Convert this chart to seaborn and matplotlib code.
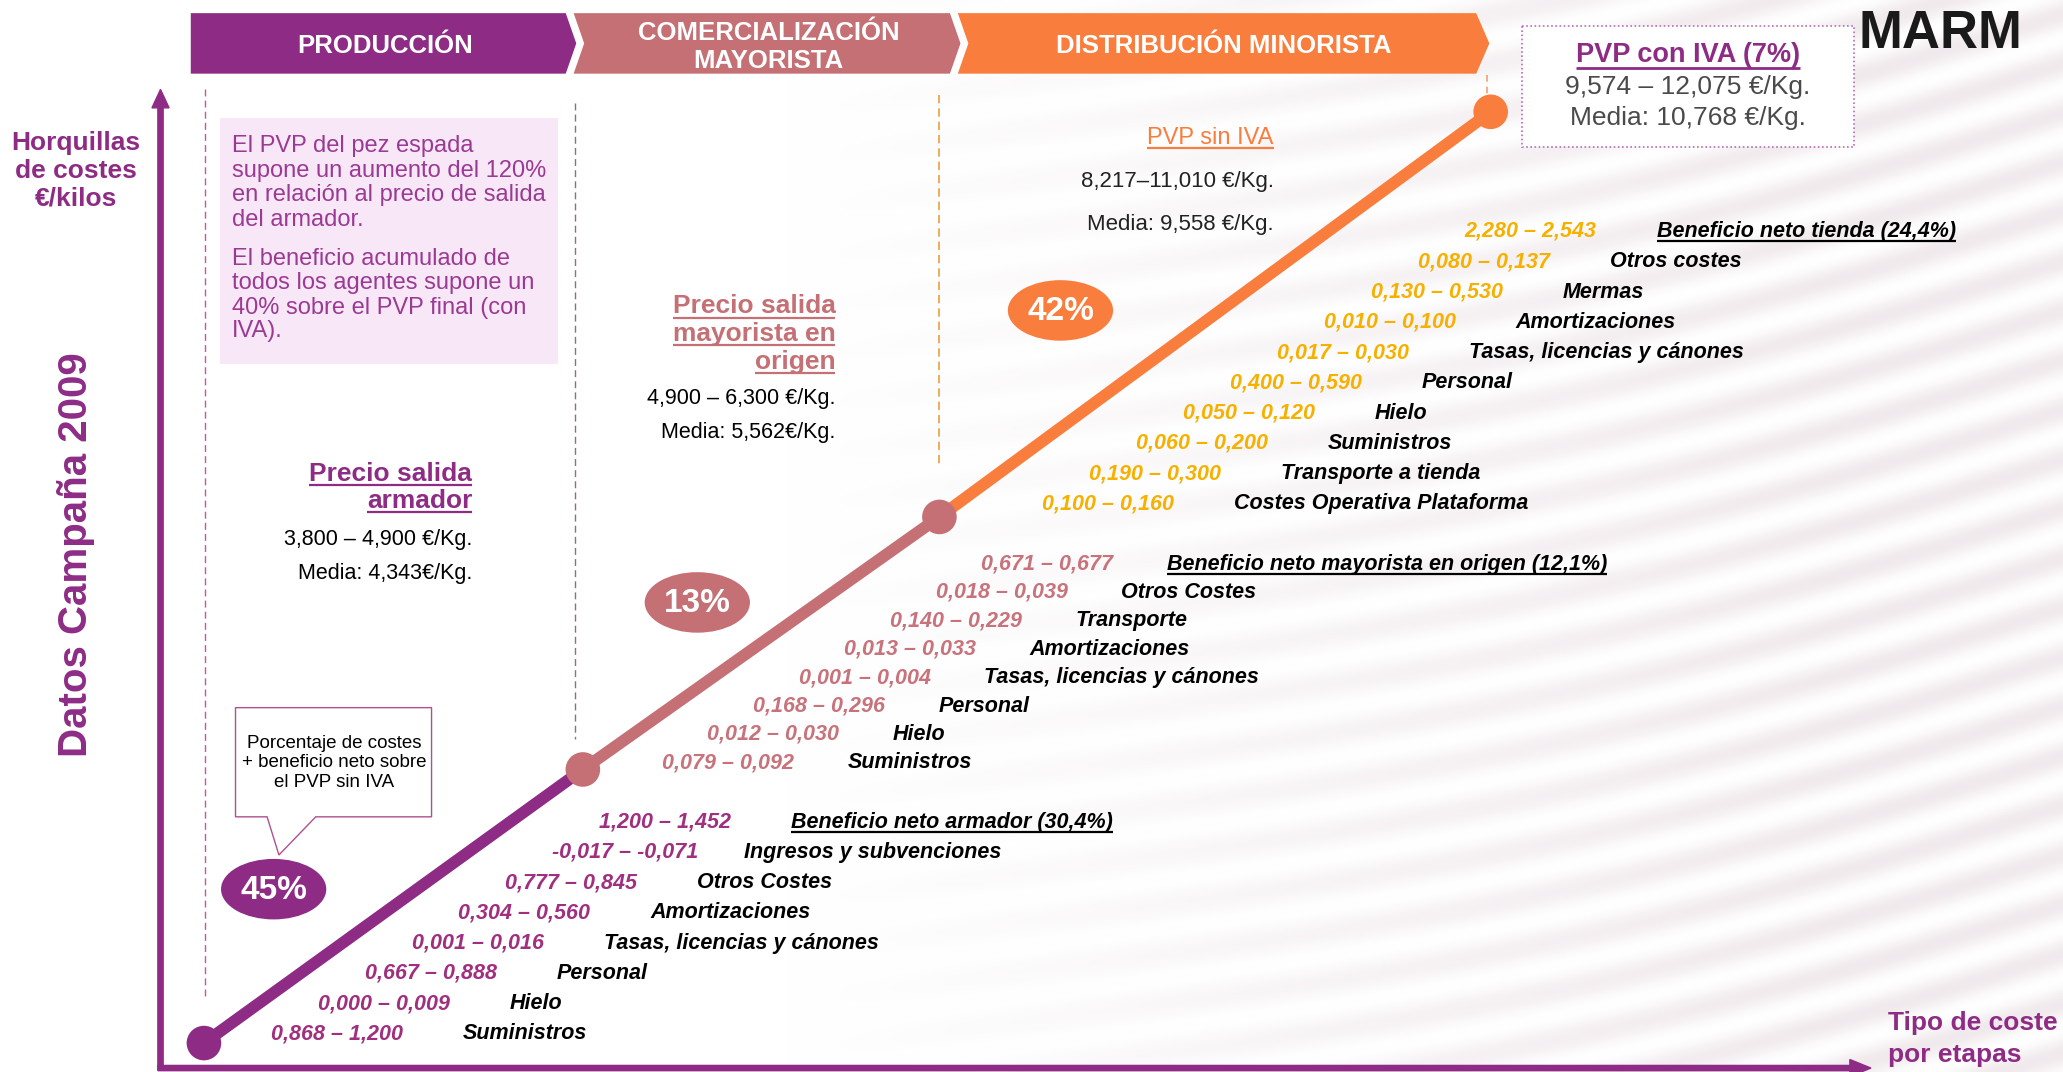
import numpy as np
import pandas as pd
import matplotlib
matplotlib.use('Agg')
import matplotlib.pyplot as plt
import seaborn as sns
from matplotlib.patches import Polygon, Ellipse, Rectangle, FancyArrow

sns.set_theme(style='white')
plt.rcParams['font.family'] = ['Liberation Sans', 'DejaVu Sans']

MORADO = '#8E2C85'
ROSA = '#C47074'
NARANJA = '#F97D3D'
ORO = '#F6B100'
VAL_MORADO = '#A0307F'
TXT_CAJA = '#9B3A94'

# --- datos ---
etapas = ['PRODUCCIÓN', 'COMERCIALIZACIÓN\nMAYORISTA', 'DISTRIBUCIÓN MINORISTA']
porcentajes = ['45%', '13%', '42%']
tramos = ['Producción', 'Mayorista', 'Minorista']

# nodos del esquema (posición en la escalera de precios)
nodo_x = [155, 443, 714, 1133]
nodo_y = [793, 585, 393, 85]

prod_valores = ['0,868 – 1,200', '0,000 – 0,009', '0,667 – 0,888', '0,001 – 0,016',
                '0,304 – 0,560', '0,777 – 0,845', '-0,017 – -0,071', '1,200 – 1,452']
prod_conceptos = ['Suministros', 'Hielo', 'Personal', 'Tasas, licencias y cánones',
                  'Amortizaciones', 'Otros Costes', 'Ingresos y subvenciones',
                  'Beneficio neto armador (30,4%)']

may_valores = ['0,079 – 0,092', '0,012 – 0,030', '0,168 – 0,296', '0,001 – 0,004',
               '0,013 – 0,033', '0,140 – 0,229', '0,018 – 0,039', '0,671 – 0,677']
may_conceptos = ['Suministros', 'Hielo', 'Personal', 'Tasas, licencias y cánones',
                 'Amortizaciones', 'Transporte', 'Otros Costes',
                 'Beneficio neto mayorista en origen (12,1%)']

min_valores = ['0,100 – 0,160', '0,190 – 0,300', '0,060 – 0,200', '0,050 – 0,120',
               '0,400 – 0,590', '0,017 – 0,030', '0,010 – 0,100', '0,130 – 0,530',
               '0,080 – 0,137', '2,280 – 2,543']
min_conceptos = ['Costes Operativa Plataforma', 'Transporte a tienda', 'Suministros',
                 'Hielo', 'Personal', 'Tasas, licencias y cánones', 'Amortizaciones',
                 'Mermas', 'Otros costes', 'Beneficio neto tienda (24,4%)']

caja_texto = ['El PVP del pez espada', 'supone un aumento del 120%',
              'en relación al precio de salida', 'del armador.',
              'El beneficio acumulado de', 'todos los agentes supone un',
              '40% sobre el PVP final (con', 'IVA).']

armador = ['3,800 – 4,900 €/Kg.', 'Media: 4,343€/Kg.']
mayorista = ['4,900 – 6,300 €/Kg.', 'Media: 5,562€/Kg.']
pvp_sin = ['8,217–11,010 €/Kg.', 'Media: 9,558 €/Kg.']
pvp_con = ['9,574 – 12,075 €/Kg.', 'Media: 10,768 €/Kg.']

W, H = 1568, 815
fig = plt.figure(figsize=(20.63, 10.72), dpi=100)
ax = fig.add_axes([0, 0, 1, 1])
ax.set_xlim(0, W)
ax.set_ylim(H, 0)
ax.axis('off')

# fondo con ondas suaves a la derecha
gx, gy = np.meshgrid(np.linspace(0, W, 784), np.linspace(0, H, 408))
fase = (gy + 0.22 * gx + 25 * np.sin(gx / 260.0)) / 6.0
peso = np.clip((gx - 600) / 800.0, 0, 1) * 0.7
onda = (0.5 + 0.5 * np.sin(fase)) * peso
fondo = np.dstack([1 - onda * 0.08, 1 - onda * 0.12, 1 - onda * 0.10])
ax.imshow(fondo, extent=[0, W, H, 0], aspect='auto', zorder=0)

renderer = fig.canvas.get_renderer()


def subrayar(t, color, lw=1.6):
    bb = t.get_window_extent(renderer)
    inv = ax.transData.inverted()
    (x0, y0), (x1, y1) = inv.transform([[bb.x0, bb.y0], [bb.x1, bb.y1]])
    ax.plot([x0, x1], [y0 - 0.5, y0 - 0.5], color=color, lw=lw, zorder=6,
            solid_capstyle='butt')


# cabeceras
cab = [(145, 430, 438, False), (436, 722, 730, True), (728, 1122, 1132, True)]
cab_col = [MORADO, ROSA, NARANJA]
for (x0, x1, xt, muesca), col, txt in zip(cab, cab_col, etapas):
    pts = [(x0, 10), (x1, 10), (xt, 33), (x1, 56), (x0, 56)]
    if muesca:
        pts.append((x0 + 8, 33))
    ax.add_patch(Polygon(pts, closed=True, color=col, lw=0, zorder=3))
    cx = (x0 + x1) / 2 + 5
    lineas = txt.split('\n')
    if len(lineas) == 1:
        ax.text(cx, 35, txt, color='white', fontsize=18.5, fontweight='bold',
                ha='center', va='center', zorder=4)
    else:
        for k, ln in enumerate(lineas):
            ax.text(cx, 25 + 21 * k, ln, color='white', fontsize=18.5,
                    fontweight='bold', ha='center', va='center', zorder=4)

# ejes con flecha
ax.add_patch(FancyArrow(122, 813, 0, -745, width=4, head_width=13, head_length=14,
                        length_includes_head=True, color=MORADO, zorder=3))
ax.add_patch(FancyArrow(120, 812, 1302, 0, width=4, head_width=13, head_length=16,
                        length_includes_head=True, color=MORADO, zorder=3))

for k, ln in enumerate(['Horquillas', 'de costes', '€/kilos']):
    ax.text(58, 109 + 21 * k, ln, color=MORADO, fontsize=19, fontweight='bold',
            ha='center', va='center')
ax.text(58, 422, 'Datos Campaña 2009', color=MORADO, fontsize=29, fontweight='bold',
        rotation=90, ha='center', va='center')
ax.text(1435, 778, 'Tipo de coste', color=MORADO, fontsize=19, fontweight='bold',
        ha='left', va='center')
ax.text(1435, 802, 'por etapas', color=MORADO, fontsize=19, fontweight='bold',
        ha='left', va='center')

# líneas discontinuas de separación
ax.plot([156, 156], [68, 760], color='#C25A95', lw=1, ls=(0, (5, 3)), zorder=2)
ax.plot([437, 437], [78, 562], color='#8C7080', lw=1, ls=(0, (5, 3)), zorder=2)
ax.plot([714, 714], [72, 355], color='#E9A13A', lw=1.2, ls=(0, (5, 3)), zorder=2)
ax.plot([1130, 1130], [57, 80], color='#F4A070', lw=1.2, ls=(0, (4, 3)), zorder=2)

# caja informativa
ax.add_patch(Rectangle((167, 90), 257, 187, color='#F8E7F6', lw=0, zorder=2))
caja_y = [111, 130, 148, 167, 197, 215, 234, 252]
for ln, yy in zip(caja_texto, caja_y):
    ax.text(176, yy, ln, color=TXT_CAJA, fontsize=17, ha='left', va='center', zorder=3)

# escalera de precios con seaborn
seg = pd.DataFrame({
    'x': [nodo_x[i + j] for i in range(3) for j in range(2)],
    'y': [nodo_y[i + j] for i in range(3) for j in range(2)],
    'tramo': [tramos[i] for i in range(3) for j in range(2)],
})
sns.lineplot(data=seg, x='x', y='y', hue='tramo', palette=[MORADO, ROSA, NARANJA],
             linewidth=8.5, sort=False, estimator=None, legend=False, ax=ax, zorder=4)
nodos = pd.DataFrame({'x': nodo_x, 'y': nodo_y, 'n': ['a', 'b', 'c', 'd']})
sns.scatterplot(data=nodos, x='x', y='y', hue='n', palette=[MORADO, ROSA, ROSA, NARANJA],
                s=620, linewidth=0, legend=False, ax=ax, zorder=5)
ax.set_xlim(0, W)
ax.set_ylim(H, 0)
ax.axis('off')

# elipses de porcentaje
elip = [(208, 676), (530, 458), (806, 236)]
for (ex, ey), col, p in zip(elip, cab_col, porcentajes):
    ax.add_patch(Ellipse((ex, ey), 80, 46, color=col, lw=0, zorder=5))
    ax.text(ex, ey + 1, p, color='white', fontsize=24, fontweight='bold',
            ha='center', va='center', zorder=6)

# bocadillo
ax.add_patch(Polygon([(179, 538), (328, 538), (328, 621), (240, 621), (212, 650),
                      (203, 621), (179, 621)], closed=True, facecolor='white',
                     edgecolor='#B0508F', lw=1, zorder=5))
for k, ln in enumerate(['Porcentaje de costes', '+ beneficio neto sobre', 'el PVP sin IVA']):
    ax.text(254, 565 + 15 * k, ln, color='black', fontsize=13.5, ha='center',
            va='center', zorder=6)

# precios de salida
for k, ln in enumerate(['Precio salida', 'armador']):
    t = ax.text(359, 360 + 21 * k, ln, color=MORADO, fontsize=19, fontweight='bold',
                ha='right', va='center', zorder=3)
    subrayar(t, MORADO)
for k, ln in enumerate(armador):
    ax.text(359, 410 + 26 * k, ln, color='black', fontsize=15.5, ha='right',
            va='center', zorder=3)

for k, ln in enumerate(['Precio salida', 'mayorista en', 'origen']):
    t = ax.text(635, 233 + 21 * k, ln, color=ROSA, fontsize=19, fontweight='bold',
                ha='right', va='center', zorder=3)
    subrayar(t, ROSA)
for k, ln in enumerate(mayorista):
    ax.text(635, 303 + 26 * k, ln, color='black', fontsize=15.5, ha='right',
            va='center', zorder=3)

t = ax.text(968, 105, 'PVP sin IVA', color=NARANJA, fontsize=17,
            ha='right', va='center', zorder=3)
subrayar(t, NARANJA)
for k, ln in enumerate(pvp_sin):
    ax.text(968, 138 + 33 * k, ln, color='#222222', fontsize=16,
            ha='right', va='center', zorder=3)

# caja PVP con IVA
ax.add_patch(Rectangle((1157, 20), 252, 92, facecolor='white', edgecolor='#B86CB8',
                       lw=1.2, ls=(0, (1, 1.5)), zorder=3))
t = ax.text(1283, 42, 'PVP con IVA (7%)', color=MORADO, fontsize=19.5, fontweight='bold',
            ha='center', va='center', zorder=4)
subrayar(t, MORADO, lw=2)
for k, ln in enumerate(pvp_con):
    ax.text(1283, 66 + 24 * k, ln, color='#4A4A4A', fontsize=19,
            ha='center', va='center', zorder=4)

# logo
ax.text(1475, 26, 'MARM', color='#1A1A1A', fontsize=38, fontweight='bold',
        ha='center', va='center', zorder=4)
ax.text(1475, 3, 'Alimentos', color='#1A1A1A', fontsize=20, fontweight='bold',
        ha='center', va='bottom', zorder=4)

# horquillas de costes por etapa
bloques = [
    (prod_valores, prod_conceptos, VAL_MORADO, 206, 786, 35.6, 23.0, 146),
    (may_valores, may_conceptos, '#C8737B', 503, 580, 34.7, 21.6, 141),
    (min_valores, min_conceptos, ORO, 792, 383, 35.7, 23.0, 146),
]
for valores, conceptos, col, x0, y0, dx, dy, off in bloques:
    n = len(valores)
    for i, (v, c) in enumerate(zip(valores, conceptos)):
        xx = x0 + i * dx
        yy = y0 - i * dy
        ax.text(xx, yy, v, color=col, fontsize=15.5, fontweight='bold',
                style='italic', ha='left', va='center', zorder=4)
        t = ax.text(xx + off, yy, c, color='black', fontsize=15.5, fontweight='bold',
                    style='italic', ha='left', va='center', zorder=4)
        if i == n - 1:
            subrayar(t, 'black')

fig.savefig('out.png', dpi=100)
